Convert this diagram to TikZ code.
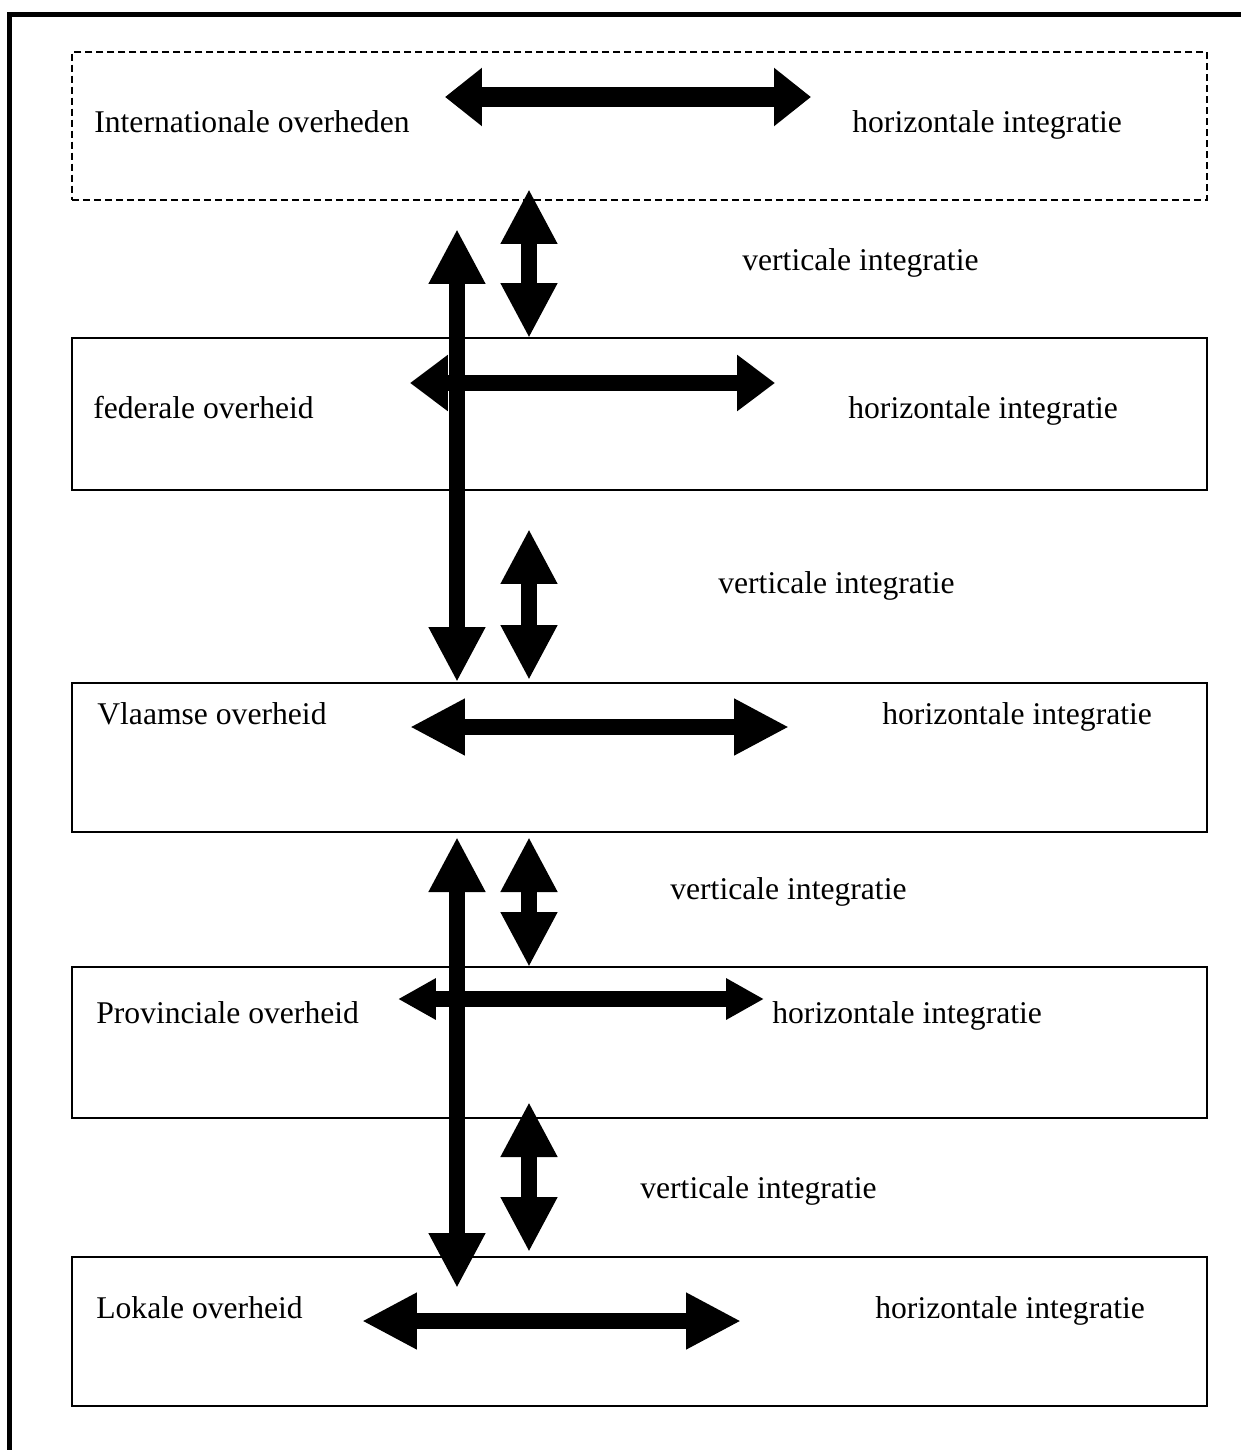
\documentclass[tikz,border=0pt]{standalone}
\usepackage{fontspec}
\setmainfont{Liberation Serif}
\usetikzlibrary{arrows.meta,fit}

\tikzset{
  govbox/.style={draw, line width=0.04cm, inner sep=0pt},
  lbl/.style={anchor=base west, inner sep=0pt},
  bigarrow/.style={line width=0.32cm, {Triangle[length=1.1cm,width=1.06cm]}-{Triangle[length=1.1cm,width=1.06cm]}},
  midarrow/.style={line width=0.32cm, {Triangle[length=0.76cm,width=1.08cm]}-{Triangle[length=0.76cm,width=1.08cm]}},
  smallarrow/.style={line width=0.32cm, {Triangle[length=0.76cm,width=0.78cm]}-{Triangle[length=0.76cm,width=0.78cm]}}
}

\begin{document}
\begin{tikzpicture}[x=0.02cm, y=-0.02cm, font=\fontsize{18}{21}\selectfont]
        \useasboundingbox (0,0) rectangle (1241,1450);
        \draw[line width=0.1cm] (9.5,1450) -- (9.5,14.5) -- (1241,14.5);

        \node[govbox, dashed, dash pattern=on 0.14cm off 0.08cm, fit={(72,52) (1207,200)}] (intl) {};
        \node[govbox, fit={(72,338) (1207,490)}] (fed) {};
        \node[govbox, fit={(72,683) (1207,832)}] (vla) {};
        \node[govbox, fit={(72,967) (1207,1118)}] (prov) {};
        \node[govbox, fit={(72,1257) (1207,1406)}] (lok) {};

        \node[lbl] (intlname) at (94,132) {Internationale overheden};
        \node[lbl] (intlhor) at (852,132) {horizontale integratie};
        \node[lbl] (vert1) at (742,270) {verticale integratie};
        \node[lbl] (fedname) at (93,418) {federale overheid};
        \node[lbl] (fedhor) at (848,418) {horizontale integratie};
        \node[lbl] (vert2) at (718,593) {verticale integratie};
        \node[lbl] (vlaname) at (97,724) {Vlaamse overheid};
        \node[lbl] (vlahor) at (882,724) {horizontale integratie};
        \node[lbl] (vert3) at (670,899) {verticale integratie};
        \node[lbl] (provname) at (96,1023) {Provinciale overheid};
        \node[lbl] (provhor) at (772,1023) {horizontale integratie};
        \node[lbl] (vert4) at (640,1198) {verticale integratie};
        \node[lbl] (lokname) at (96,1318) {Lokale overheid};
        \node[lbl] (lokhor) at (875,1318) {horizontale integratie};

        \coordinate (intlL) at (445,97);   \coordinate (intlR) at (811,97);
        \coordinate (fedL) at (410,383);   \coordinate (fedR) at (775,383);
        \coordinate (vlaL) at (410,727);   \coordinate (vlaR) at (789,727);
        \coordinate (provL) at (398,999);  \coordinate (provR) at (764,999);
        \coordinate (lokL) at (362,1321);  \coordinate (lokR) at (741,1321);
        \coordinate (up1) at (457,229);    \coordinate (down1) at (457,682);
        \coordinate (up2) at (457,837);    \coordinate (down2) at (457,1288);
        \coordinate (s1t) at (529,189);    \coordinate (s1b) at (529,338);
        \coordinate (s2t) at (529,529);    \coordinate (s2b) at (529,680);
        \coordinate (s3t) at (529,837);    \coordinate (s3b) at (529,967);
        \coordinate (s4t) at (529,1102);   \coordinate (s4b) at (529,1252);

        \draw[line width=0.4cm, {Triangle[length=0.74cm,width=1.12cm]}-{Triangle[length=0.74cm,width=1.12cm]}] (intlL) -- (intlR);
        \draw[bigarrow] (s1t) -- (s1b);
        \draw[bigarrow] (up1) -- (down1);
        \draw[midarrow] (fedL) -- (fedR);
        \draw[bigarrow] (s2t) -- (s2b);
        \draw[bigarrow] (vlaL) -- (vlaR);
        \draw[bigarrow] (up2) -- (down2);
        \draw[bigarrow] (s3t) -- (s3b);
        \draw[smallarrow] (provL) -- (provR);
        \draw[bigarrow] (s4t) -- (s4b);
        \draw[bigarrow] (lokL) -- (lokR);
\end{tikzpicture}
\end{document}
